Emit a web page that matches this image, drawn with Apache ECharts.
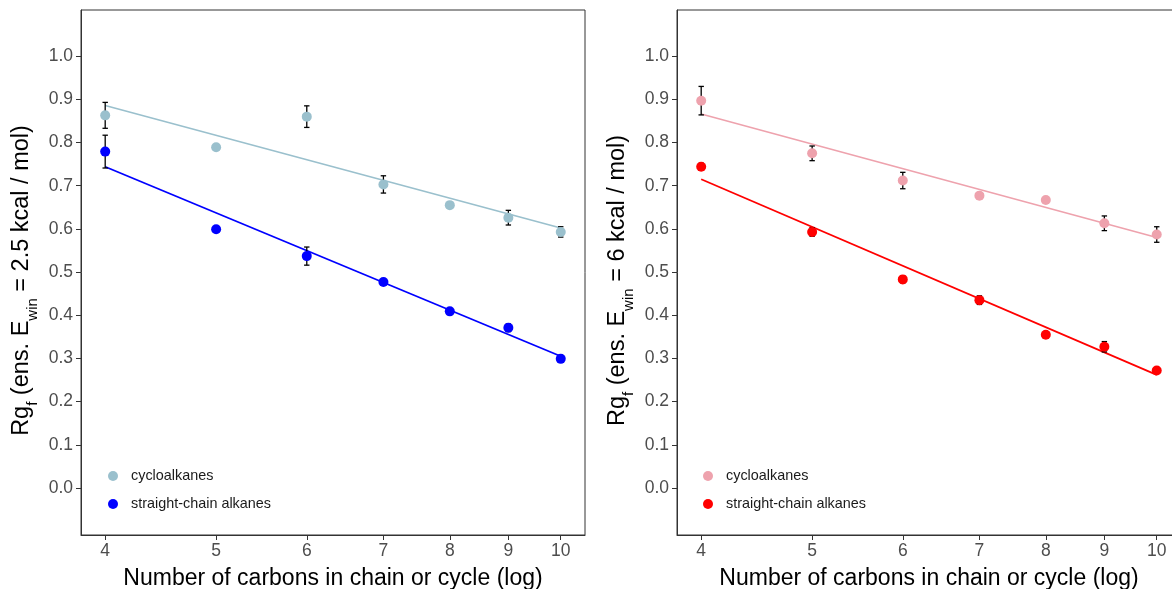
<!DOCTYPE html>
<html><head><meta charset="utf-8">
<script src="https://cdn.jsdelivr.net/npm/echarts@6/dist/echarts.min.js"></script>
<style>html,body{margin:0;padding:0;background:#fff;overflow:hidden}#c{width:1172px;height:589px}</style>
</head><body><div id="c"></div>
<script>
const carbons = [4, 5, 6, 7, 8, 9, 10];
const xTickLabels = [4, 5, 6, 7, 8, 9, 10];
const yTickLabels = [0.0, 0.1, 0.2, 0.3, 0.4, 0.5, 0.6, 0.7, 0.8, 0.9, 1.0];

// Left panel (Ewin = 2.5 kcal/mol)
const cycloL = [0.863, 0.789, 0.860, 0.703, 0.655, 0.626, 0.593];
const cycloLErr = [0.030, 0.004, 0.025, 0.020, 0.004, 0.017, 0.012];
const straightL = [0.779, 0.599, 0.537, 0.477, 0.409, 0.371, 0.299];
const straightLErr = [0.038, 0.004, 0.021, 0.007, 0.005, 0.009, 0.008];
const fitX = [4, 10];
const fitCycloL = [0.886, 0.602];
const fitStraightL = [0.744, 0.305];

// Right panel (Ewin = 6 kcal/mol)
const cycloR = [0.897, 0.775, 0.712, 0.677, 0.667, 0.613, 0.587];
const cycloRErr = [0.033, 0.017, 0.019, 0.004, 0.006, 0.017, 0.018];
const straightR = [0.744, 0.593, 0.483, 0.435, 0.355, 0.327, 0.272];
const straightRErr = [0.008, 0.010, 0.008, 0.010, 0.006, 0.012, 0.005];
const fitCycloR = [0.866, 0.580];
const fitStraightR = [0.715, 0.262];

const FONT = '"Liberation Sans", Arial, sans-serif';
const colors = { cycloL: '#9AC0CD', straightL: '#0000FF', cycloR: '#EEA2AD', straightR: '#FF0000' };

function pts(xs, ys) { return xs.map((x, i) => [x, ys[i]]); }
function errs(xs, ys, es) { return xs.map((x, i) => [x, ys[i] - es[i], ys[i] + es[i]]); }

function errorSeries(idx, data) {
  return {
    type: 'custom', xAxisIndex: idx, yAxisIndex: idx, silent: true, z: 3,
    data: data,
    renderItem: function (params, api) {
      const x = api.value(0);
      const lo = api.coord([x, api.value(1)]);
      const hi = api.coord([x, api.value(2)]);
      const w = 2.7;
      const st = { stroke: '#000', lineWidth: 1.3 };
      return { type: 'group', children: [
        { type: 'line', shape: { x1: lo[0], y1: lo[1], x2: hi[0], y2: hi[1] }, style: st },
        { type: 'line', shape: { x1: lo[0] - w, y1: lo[1], x2: lo[0] + w, y2: lo[1] }, style: st },
        { type: 'line', shape: { x1: hi[0] - w, y1: hi[1], x2: hi[0] + w, y2: hi[1] }, style: st }
      ]};
    }
  };
}

function xAxis(idx) {
  return {
    type: 'log', logBase: 10, gridIndex: idx, min: 3.81, max: 10.5,
    name: 'Number of carbons in chain or cycle (log)', nameLocation: 'middle', nameGap: 32,
    nameTextStyle: { fontFamily: FONT, fontSize: 23, color: '#000' },
    axisLine: { show: true, onZero: false, lineStyle: { color: '#333', width: 1 } },
    axisTick: { show: true, length: 5, lineStyle: { color: '#333' }, customValues: xTickLabels },
    axisLabel: { customValues: xTickLabels, fontFamily: FONT, fontSize: 17.5, color: '#4D4D4D', margin: 7,
      formatter: v => String(Math.round(v)) },
    splitLine: { show: false }, minorSplitLine: { show: false }
  };
}
function yAxis(idx, ew) {
  return {
    type: 'value', gridIndex: idx, min: -0.109, max: 1.107,
    name: '{m|Rg}{s|f}{m| (ens. E}{s|win}{m| = ' + ew + ' kcal / mol)}',
    nameLocation: 'middle', nameGap: 46,
    nameTextStyle: { fontFamily: FONT, color: '#000', padding: [0, 16, 0, 0], rich: {
      m: { fontFamily: FONT, fontSize: 23.5, color: '#000', lineHeight: 27 },
      s: { fontFamily: FONT, fontSize: 15, color: '#000', lineHeight: 15, verticalAlign: 'bottom', padding: [0, 0, -5, 0] }
    } },
    axisLine: { show: true, onZero: false, lineStyle: { color: '#333', width: 1 } },
    axisTick: { show: true, length: 5, lineStyle: { color: '#333' }, customValues: yTickLabels },
    axisLabel: { customValues: yTickLabels, fontFamily: FONT, fontSize: 17.5, color: '#4D4D4D', margin: 8,
      formatter: v => v.toFixed(1) },
    splitLine: { show: false }
  };
}
function legend(left, names) {
  return {
    left: left, top: 463, orient: 'vertical', itemWidth: 10, itemHeight: 10, itemGap: 12,
    data: names, icon: 'circle', selectedMode: false,
    formatter: n => n.replace(/ \[R\]$/, ''),
    textStyle: { fontFamily: FONT, fontSize: 14.4, color: '#1a1a1a', lineHeight: 16, padding: [0, 0, 0, 8] }
  };
}

const option = {
  backgroundColor: '#fff',
  animation: false,
  grid: [
    { left: 81, right: 587, top: 10, bottom: 54, show: true, borderColor: '#333', borderWidth: 1, containLabel: false, outerBoundsMode: 'none' },
    { left: 677, right: -9, top: 10, bottom: 54, show: true, borderColor: '#333', borderWidth: 1, containLabel: false, outerBoundsMode: 'none' }
  ],
  xAxis: [xAxis(0), xAxis(1)],
  yAxis: [yAxis(0, '2.5'), yAxis(1, '6')],
  legend: [legend(103, ['cycloalkanes', 'straight-chain alkanes']), legend(698, ['cycloalkanes [R]', 'straight-chain alkanes [R]'])],
  series: [
    { type: 'line', xAxisIndex: 0, yAxisIndex: 0, data: pts(fitX, fitCycloL), symbol: 'none', lineStyle: { color: colors.cycloL, width: 1.6 }, silent: true, z: 2 },
    { type: 'line', xAxisIndex: 0, yAxisIndex: 0, data: pts(fitX, fitStraightL), symbol: 'none', lineStyle: { color: colors.straightL, width: 1.8 }, silent: true, z: 2 },
    errorSeries(0, errs(carbons, cycloL, cycloLErr)),
    errorSeries(0, errs(carbons, straightL, straightLErr)),
    { name: 'cycloalkanes', type: 'scatter', xAxisIndex: 0, yAxisIndex: 0, data: pts(carbons, cycloL), symbol: 'circle', symbolSize: 10, itemStyle: { color: colors.cycloL, opacity: 1 }, z: 4 },
    { name: 'straight-chain alkanes', type: 'scatter', xAxisIndex: 0, yAxisIndex: 0, data: pts(carbons, straightL), symbol: 'circle', symbolSize: 10, itemStyle: { color: colors.straightL, opacity: 1 }, z: 4 },

    { type: 'line', xAxisIndex: 1, yAxisIndex: 1, data: pts(fitX, fitCycloR), symbol: 'none', lineStyle: { color: colors.cycloR, width: 1.6 }, silent: true, z: 2 },
    { type: 'line', xAxisIndex: 1, yAxisIndex: 1, data: pts(fitX, fitStraightR), symbol: 'none', lineStyle: { color: colors.straightR, width: 1.8 }, silent: true, z: 2 },
    errorSeries(1, errs(carbons, cycloR, cycloRErr)),
    errorSeries(1, errs(carbons, straightR, straightRErr)),
    { name: 'cycloalkanes [R]', type: 'scatter', xAxisIndex: 1, yAxisIndex: 1, data: pts(carbons, cycloR), symbol: 'circle', symbolSize: 10, itemStyle: { color: colors.cycloR, opacity: 1 }, z: 4 },
    { name: 'straight-chain alkanes [R]', type: 'scatter', xAxisIndex: 1, yAxisIndex: 1, data: pts(carbons, straightR), symbol: 'circle', symbolSize: 10, itemStyle: { color: colors.straightR, opacity: 1 }, z: 4 }
  ]
};
const chart = echarts.init(document.getElementById('c'), null, { renderer: 'canvas' });
chart.setOption(option);
</script></body></html>
